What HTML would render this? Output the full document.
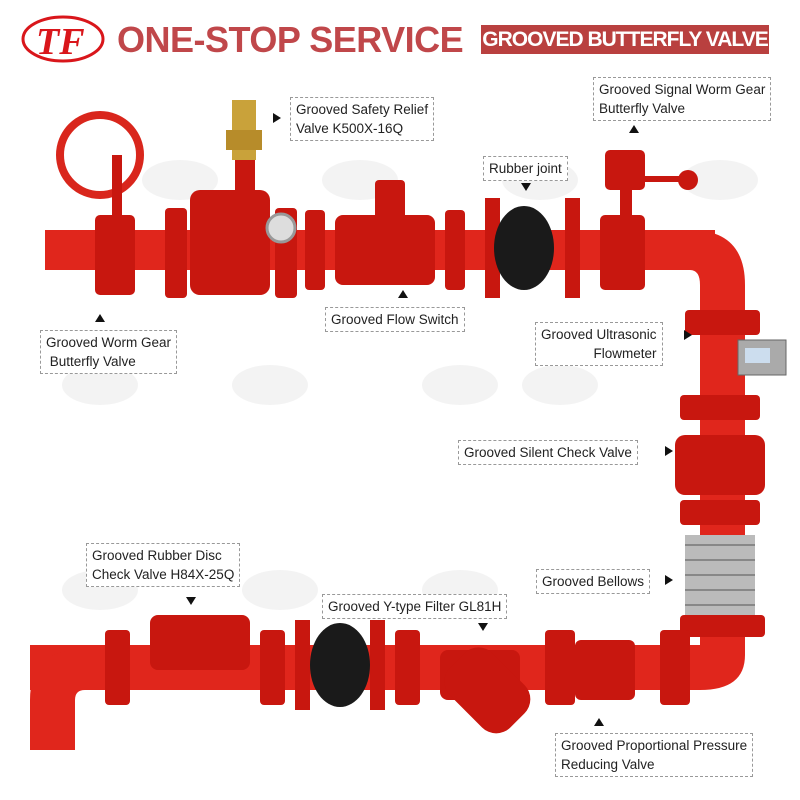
<!DOCTYPE html>
<html><head><meta charset="utf-8"><style>
body{margin:0;width:800px;height:800px;background:#fff;position:relative;overflow:hidden;font-family:"Liberation Sans",sans-serif}
.lb{position:absolute;border:1px dashed #999;background:#fff;font-size:13.5px;color:#222;padding:2px 5px;line-height:19px}
.t{position:absolute;width:0;height:0;border-left:5px solid transparent;border-right:5px solid transparent}
.up{border-bottom:8px solid #111}.dn{border-top:8px solid #111}
.rt{position:absolute;width:0;height:0;border-top:5px solid transparent;border-bottom:5px solid transparent;border-left:8px solid #111}
</style></head><body>
<svg width="800" height="800" style="position:absolute;left:0;top:0">
<g fill="#eee" opacity=".7">
<ellipse cx="180" cy="180" rx="38" ry="20"/><ellipse cx="360" cy="180" rx="38" ry="20"/><ellipse cx="540" cy="180" rx="38" ry="20"/><ellipse cx="720" cy="180" rx="38" ry="20"/>
<ellipse cx="100" cy="385" rx="38" ry="20"/><ellipse cx="270" cy="385" rx="38" ry="20"/><ellipse cx="460" cy="385" rx="38" ry="20"/><ellipse cx="560" cy="385" rx="38" ry="20"/>
<ellipse cx="100" cy="590" rx="38" ry="20"/><ellipse cx="280" cy="590" rx="38" ry="20"/><ellipse cx="460" cy="590" rx="38" ry="20"/>
</g>
<ellipse cx="63" cy="39" rx="40" ry="22" fill="none" stroke="#d9161b" stroke-width="3"/>
<text x="36" y="54" font-family="Liberation Serif" font-style="italic" font-weight="bold" font-size="38" fill="#d9161b">TF</text>
<g fill="#e0261c">
<rect x="45" y="230" width="670" height="40"/>
<path d="M690 230 Q745 230 745 285 L745 640 L700 640 L700 285 Q700 270 690 270Z"/>
<path d="M745 620 L745 655 Q745 690 700 690 L30 690 L30 645 L700 645 L700 620Z"/>
<path d="M80 650 Q30 650 30 700 L30 750 L75 750 L75 700 Q75 690 85 690Z"/>
</g>
<g fill="#c8170f">
<rect x="95" y="215" width="40" height="80" rx="5"/><rect x="165" y="208" width="22" height="90" rx="4"/>
<rect x="190" y="190" width="80" height="105" rx="10"/><rect x="275" y="208" width="22" height="90" rx="4"/>
<rect x="305" y="210" width="20" height="80" rx="4"/><rect x="335" y="215" width="100" height="70" rx="8"/>
<rect x="445" y="210" width="20" height="80" rx="4"/><rect x="485" y="198" width="15" height="100"/>
<rect x="565" y="198" width="15" height="100"/><rect x="600" y="215" width="45" height="75" rx="5"/>
<rect x="685" y="310" width="75" height="25" rx="4"/><rect x="680" y="395" width="80" height="25" rx="4"/>
<rect x="675" y="435" width="90" height="60" rx="10"/><rect x="680" y="500" width="80" height="25" rx="4"/>
<rect x="680" y="615" width="85" height="22" rx="4"/><rect x="660" y="630" width="30" height="75" rx="4"/>
<rect x="545" y="630" width="30" height="75" rx="4"/><rect x="575" y="640" width="60" height="60" rx="6"/>
<rect x="440" y="650" width="80" height="50" rx="8"/><rect x="445" y="660" width="85" height="60" rx="20" transform="rotate(45 487 690)"/>
<rect x="395" y="630" width="25" height="75" rx="4"/><rect x="295" y="620" width="15" height="90"/>
<rect x="370" y="620" width="15" height="90"/><rect x="150" y="615" width="100" height="55" rx="8"/>
<rect x="260" y="630" width="25" height="75" rx="4"/><rect x="105" y="630" width="25" height="75" rx="4"/>
<rect x="235" y="160" width="20" height="40"/><rect x="375" y="180" width="30" height="40" rx="4"/>
<rect x="605" y="150" width="40" height="40" rx="5"/><rect x="620" y="190" width="12" height="30"/>
</g>
<circle cx="100" cy="155" r="40" fill="none" stroke="#d9261c" stroke-width="8"/>
<rect x="112" y="155" width="10" height="65" fill="#c8170f"/>
<circle cx="688" cy="180" r="10" fill="#c8170f"/><rect x="640" y="176" width="50" height="6" fill="#c8170f"/>
<rect x="232" y="100" width="24" height="60" fill="#c9a23a"/><rect x="226" y="130" width="36" height="20" fill="#b78c2a"/>
<circle cx="281" cy="228" r="14" fill="#ddd" stroke="#999" stroke-width="3"/>
<ellipse cx="524" cy="248" rx="30" ry="42" fill="#1a1a1a"/>
<ellipse cx="340" cy="665" rx="30" ry="42" fill="#1a1a1a"/>
<rect x="685" y="535" width="70" height="80" fill="#bbb"/>
<g stroke="#888" stroke-width="2"><line x1="685" y1="545" x2="755" y2="545"/><line x1="685" y1="560" x2="755" y2="560"/><line x1="685" y1="575" x2="755" y2="575"/><line x1="685" y1="590" x2="755" y2="590"/><line x1="685" y1="605" x2="755" y2="605"/></g>
<rect x="738" y="340" width="48" height="35" fill="#aaa" stroke="#666"/><rect x="745" y="348" width="25" height="15" fill="#cde"/>
</svg>
<div style="position:absolute;left:117px;top:19px;font-size:36px;font-weight:bold;color:#c0474a;letter-spacing:-0.5px;white-space:nowrap">ONE-STOP SERVICE</div>
<div style="position:absolute;left:481px;top:25px;width:288px;height:29px;background:#b9403f;color:#fff;font-weight:bold;font-size:21px;line-height:29px;text-align:center;letter-spacing:-1px;white-space:nowrap">GROOVED BUTTERFLY VALVE</div>

<div class="lb" style="left:290px;top:97px">Grooved Safety Relief<br>Valve K500X-16Q</div><div class="rt" style="left:273px;top:113px"></div>
<div class="lb" style="left:593px;top:77px">Grooved Signal Worm Gear<br>Butterfly Valve</div><div class="t up" style="left:629px;top:125px"></div>
<div class="lb" style="left:483px;top:156px">Rubber joint</div><div class="t dn" style="left:521px;top:183px"></div>
<div class="lb" style="left:40px;top:330px">Grooved Worm Gear<br>&nbsp;Butterfly Valve</div><div class="t up" style="left:95px;top:314px"></div>
<div class="lb" style="left:325px;top:307px">Grooved Flow Switch</div><div class="t up" style="left:398px;top:290px"></div>
<div class="lb" style="left:535px;top:322px;text-align:right">Grooved Ultrasonic<br>Flowmeter</div><div class="rt" style="left:684px;top:330px"></div>
<div class="lb" style="left:458px;top:440px">Grooved Silent Check Valve</div><div class="rt" style="left:665px;top:446px"></div>
<div class="lb" style="left:86px;top:543px">Grooved Rubber Disc<br>Check Valve H84X-25Q</div><div class="t dn" style="left:186px;top:597px"></div>
<div class="lb" style="left:536px;top:569px">Grooved Bellows</div><div class="rt" style="left:665px;top:575px"></div>
<div class="lb" style="left:322px;top:594px">Grooved Y-type Filter GL81H</div><div class="t dn" style="left:478px;top:623px"></div>
<div class="lb" style="left:555px;top:733px">Grooved Proportional Pressure<br>Reducing Valve</div><div class="t up" style="left:594px;top:718px"></div>
</body></html>
